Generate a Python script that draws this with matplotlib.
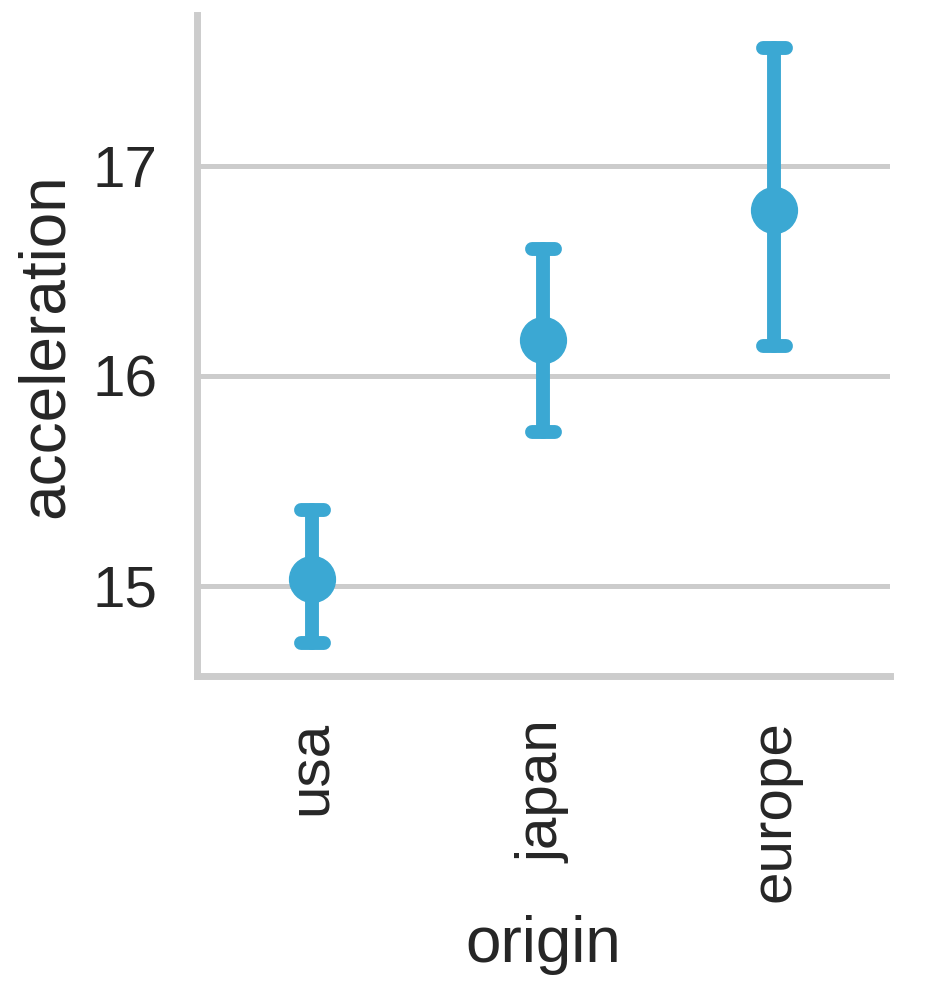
import matplotlib
matplotlib.use("Agg")
import matplotlib.pyplot as plt

categories = ["usa", "japan", "europe"]
means = [15.032, 16.171, 16.790]
ci_low = [14.726, 15.733, 16.143]
ci_high = [15.362, 16.605, 17.562]

color = "#3ba8d3"
text_color = "#262626"
grid_color = "#cccccc"

plt.rcParams["font.family"] = ["Liberation Sans", "DejaVu Sans"]

fig = plt.figure(figsize=(9.35, 9.88), dpi=100)
ax = fig.add_axes([196.5 / 935, (988 - 676) / 988, (890 - 196.5) / 935, (676 - 15) / 988])

xs = list(range(len(categories)))
cap = 0.05
for x, lo, hi in zip(xs, ci_low, ci_high):
    ax.plot([x, x], [lo, hi], color=color, lw=10, solid_capstyle="round", zorder=3)
    ax.plot([x - cap, x + cap], [lo, lo], color=color, lw=10, solid_capstyle="round", zorder=3)
    ax.plot([x - cap, x + cap], [hi, hi], color=color, lw=10, solid_capstyle="round", zorder=3)
ax.plot(xs, means, linestyle="none", marker="o", markersize=33, color=color, zorder=4)

ax.set_xlim(-0.5, 2.5)
ax.set_ylim(14.571, 17.719)
ax.set_yticks([15, 16, 17])
ax.set_yticklabels(["15", "16", "17"])
ax.set_xticks(xs)
ax.set_xticklabels(categories, rotation=90)

ax.yaxis.grid(True, color=grid_color, lw=3.6, zorder=0)
ax.xaxis.grid(False)
ax.set_axisbelow(True)
for s in ["top", "right"]:
    ax.spines[s].set_visible(False)
for s in ["left", "bottom"]:
    ax.spines[s].set_color(grid_color)
    ax.spines[s].set_linewidth(5)

ax.tick_params(axis="both", length=0, labelsize=42, colors=text_color)
ax.tick_params(axis="y", pad=28)
ax.tick_params(axis="x", pad=32)
ax.set_xlabel("origin", fontsize=46, color=text_color, labelpad=9)
ax.set_ylabel("acceleration", fontsize=46, color=text_color, labelpad=12)

fig.savefig("out.png", dpi=100, facecolor="white")
